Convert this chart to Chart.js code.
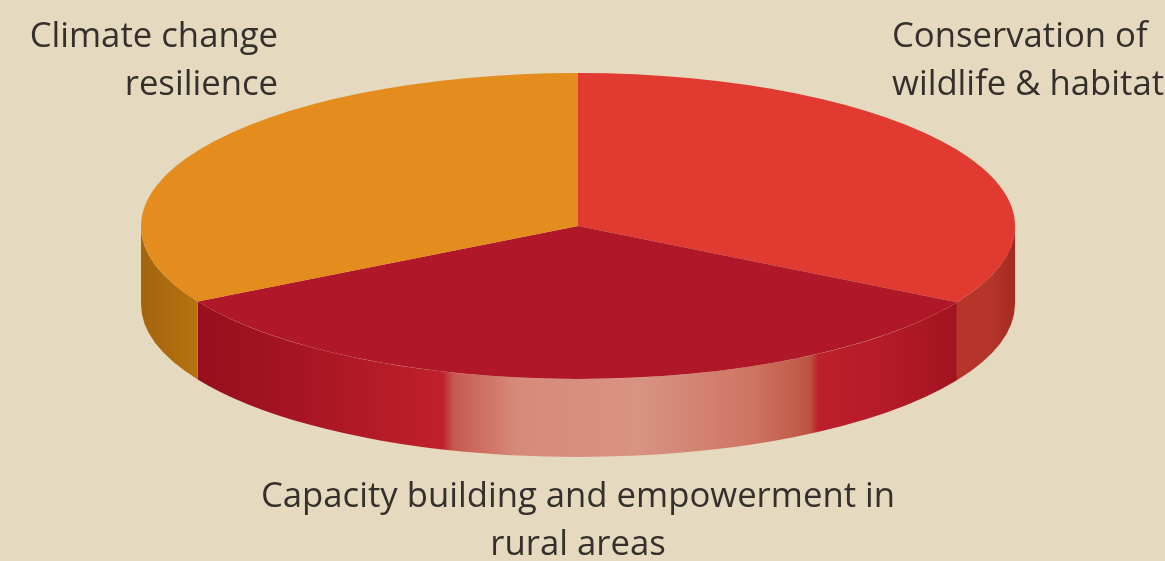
<!DOCTYPE html>
<html>
<head>
<meta charset="utf-8">
<script src="https://cdn.jsdelivr.net/npm/chart.js@4"></script>
<style>
    html, body { margin: 0; padding: 0; background: #e5d9bf; overflow: hidden; }
    canvas { display: block; }
</style>
</head>
<body>
<canvas id="wykres" width="1165" height="561"></canvas>
<script>
// Dane (udzial w %, od godziny 12 zgodnie z zegarem)
const kategorie = ['Conservation of wildlife & habitat', 'Capacity building and empowerment in rural areas', 'Climate change resilience'];
const wartosci = [33.3, 33.5, 33.2];
const koloryGora = ['#e03a31', '#b01829', '#e48d1e'];

// Gradienty boku: [ulamek szerokosci elipsy, kolor]
const gradientyBoku = [
    [[0.93, '#b8342a'], [0.97, '#b5352b'], [1, '#a62a20']],
    [[0.067, '#970f1d'], [0.17, '#a51423'], [0.345, '#c0202c'], [0.358, '#c75a50'], [0.43, '#d88a7a'],
     [0.57, '#d89383'], [0.70, '#cf7462'], [0.765, '#bc5543'], [0.775, '#be1f2c'], [0.86, '#b31a28'], [0.935, '#a0141f']],
    [[0, '#a3640f'], [0.067, '#b8730f']]
];

const ELIPSA_X = 437, ELIPSA_Y = 153, GLEBOKOSC = 78;
const KOLOR_TEKSTU = '#35302b', CZCIONKA = '34.7px "Open Sans"', WIERSZ = 48;

// Etykiety: wiersze, wyrownanie, x, y pierwszej linii bazowej
const etykiety = [
    { wiersze: ['Conservation of', 'wildlife & habitat'], align: 'left', x: 892, y: 47 },
    { wiersze: ['Capacity building and empowerment in', 'rural areas'], align: 'center', x: 578, y: 507 },
    { wiersze: ['Climate change', 'resilience'], align: 'right', x: 278, y: 47 }
];

// Spłaszczenie kola do elipsy + bok "3D" rysowany z katow lukow Chart.js
const pie3d = {
    id: 'pie3d',
    beforeDatasetsDraw(chart) {
        const ctx = chart.ctx;
        const luki = chart.getDatasetMeta(0).data;
        const cx = luki[0].x, cy = luki[0].y;
        const lewo = cx - ELIPSA_X, szer = ELIPSA_X * 2;

        luki.forEach((luk, i) => {
            // widoczna jest tylko przednia polowa (0..PI)
            let a = Math.max(luk.startAngle, 0);
            let b = Math.min(luk.endAngle, Math.PI);
            if (b <= a) return;
            const g = ctx.createLinearGradient(lewo, 0, lewo + szer, 0);
            gradientyBoku[i].forEach(s => g.addColorStop(s[0], s[1]));
            ctx.beginPath();
            ctx.ellipse(cx, cy, ELIPSA_X, ELIPSA_Y, 0, a, b);
            ctx.ellipse(cx, cy + GLEBOKOSC, ELIPSA_X, ELIPSA_Y, 0, b, a, true);
            ctx.closePath();
            ctx.fillStyle = g;
            ctx.fill();
        });

        const r = luki[0].outerRadius;
        ctx.save();
        ctx.translate(cx, cy);
        ctx.scale(ELIPSA_X / r, ELIPSA_Y / r);
        ctx.translate(-cx, -cy);
    },
    afterDatasetsDraw(chart) {
        const ctx = chart.ctx;
        ctx.restore();

        ctx.fillStyle = KOLOR_TEKSTU;
        ctx.font = CZCIONKA;
        ctx.textBaseline = 'alphabetic';
        etykiety.forEach(e => {
            ctx.textAlign = e.align;
            e.wiersze.forEach((w, n) => ctx.fillText(w, e.x, e.y + n * WIERSZ));
        });
    }
};

new Chart(document.getElementById('wykres').getContext('2d'), {
    type: 'pie',
    data: {
        labels: kategorie,
        datasets: [{
            data: wartosci,
            backgroundColor: koloryGora,
            borderWidth: 0,
            clip: false
        }]
    },
    options: {
        responsive: false,
        animation: false,
        layout: { padding: { left: 0, right: 9, top: 0, bottom: 109 } },
        plugins: { legend: { display: false }, tooltip: { enabled: false } }
    },
    plugins: [pie3d]
});
</script>
</body>
</html>
